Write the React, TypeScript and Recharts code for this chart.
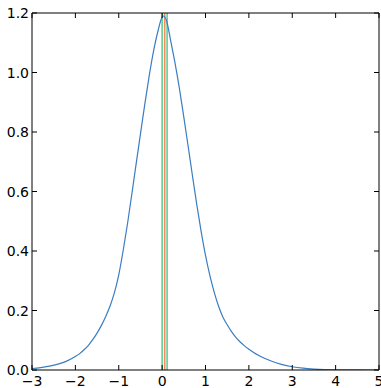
import React from "react";
import { LineChart, Line, XAxis, YAxis, ReferenceLine } from "recharts";

const xValues = [
  -3, -2.8, -2.6, -2.4, -2.2, -2, -1.9, -1.8, -1.7, -1.6, -1.5, -1.4, -1.3, -1.2, -1.1, -1, -0.9, -0.8, -0.7, -0.6, -0.5, -0.4, -0.3, -0.2, -0.1, 0, 0.03,
  0.1, 0.2, 0.3, 0.4, 0.5, 0.6, 0.7, 0.8, 0.9, 1, 1.1, 1.2, 1.3, 1.4, 1.5, 1.6, 1.7, 1.8, 1.9, 2, 2.25, 2.5, 2.75, 3, 3.25, 3.5, 3.75, 4, 4.5, 5,
];
const yValues = [
  0.005, 0.008, 0.013, 0.02, 0.03, 0.045, 0.055, 0.068, 0.083, 0.102, 0.124, 0.15, 0.18, 0.215, 0.26, 0.32, 0.4, 0.49, 0.59, 0.692, 0.793, 0.893, 0.987, 1.07, 1.137, 1.186, 1.19,
  1.175, 1.105, 1.03, 0.945, 0.85, 0.752, 0.652, 0.555, 0.465, 0.385, 0.318, 0.262, 0.215, 0.178, 0.152, 0.129, 0.11, 0.094, 0.081, 0.07, 0.047, 0.031, 0.019, 0.011, 0.006, 0.0032, 0.0016, 0.0008, 0.0002, 0,
];
const xTicks = [-3, -2, -1, 0, 1, 2, 3, 4, 5];
const yTicks = [0, 0.2, 0.4, 0.6, 0.8, 1.0, 1.2];
const markers = [
  { x: 0.0, color: "#5fcf96" },
  { x: 0.06, color: "#fb8a5e" },
  { x: 0.115, color: "#5fcf96" },
];

const data = xValues.map((x, i) => ({ x, y: yValues[i] }));

const FONT = "DejaVu Sans, sans-serif";
const TL = 5;

const fmtX = (v: number) => (v < 0 ? "\u2212" + Math.abs(v) : String(v));

const BottomTick = (props: any) => {
  const { x, y, payload } = props;
  return (
    <g>
      <line x1={x} x2={x} y1={y} y2={y - TL} stroke="#000" strokeWidth={1} />
      <text x={x} y={y + 16} textAnchor="middle" fontFamily={FONT} fontSize={14} fill="#000">
        {fmtX(payload.value)}
      </text>
    </g>
  );
};

const TopTick = (props: any) => {
  const { x, y } = props;
  return <line x1={x} x2={x} y1={y} y2={y + TL} stroke="#000" strokeWidth={1} />;
};

const LeftTick = (props: any) => {
  const { x, y, payload } = props;
  return (
    <g>
      <line x1={x} x2={x + TL} y1={y} y2={y} stroke="#000" strokeWidth={1} />
      <text x={x - 3} y={y + 5} textAnchor="end" fontFamily={FONT} fontSize={14} fill="#000">
        {payload.value.toFixed(1)}
      </text>
    </g>
  );
};

const RightTick = (props: any) => {
  const { x, y } = props;
  return <line x1={x} x2={x - TL} y1={y} y2={y} stroke="#000" strokeWidth={1} />;
};

export default function App() {
  return (
    <div style={{ position: "absolute", left: 0, top: 0, background: "#fff" }}>
      <LineChart width={381} height={388} data={data} margin={{ top: 12, right: 1, bottom: 0, left: 0 }}>
        <XAxis
          xAxisId="b"
          dataKey="x"
          type="number"
          domain={[-3, 5]}
          ticks={xTicks}
          interval={0}
          height={18}
          tickSize={0}
          tickMargin={0}
          tick={<BottomTick />}
          axisLine={{ stroke: "#000", strokeWidth: 1 }}
          allowDataOverflow
        />
        <XAxis
          xAxisId="t"
          orientation="top"
          dataKey="x"
          type="number"
          domain={[-3, 5]}
          ticks={xTicks}
          interval={0}
          height={1}
          tickSize={0}
          tickMargin={0}
          tick={<TopTick />}
          axisLine={{ stroke: "#000", strokeWidth: 1 }}
          allowDataOverflow
        />
        <YAxis
          yAxisId="l"
          type="number"
          domain={[0, 1.2]}
          ticks={yTicks}
          interval={0}
          width={32}
          tickSize={0}
          tickMargin={0}
          tick={<LeftTick />}
          axisLine={{ stroke: "#000", strokeWidth: 1 }}
          allowDataOverflow
        />
        <YAxis
          yAxisId="r"
          orientation="right"
          type="number"
          domain={[0, 1.2]}
          ticks={yTicks}
          interval={0}
          width={1}
          tickSize={0}
          tickMargin={0}
          tick={<RightTick />}
          axisLine={{ stroke: "#000", strokeWidth: 1 }}
          allowDataOverflow
        />
        {markers.map((m, i) => (
          <ReferenceLine key={i} xAxisId="b" yAxisId="l" x={m.x} stroke={m.color} strokeWidth={1.6} />
        ))}
        <Line
          xAxisId="b"
          yAxisId="l"
          dataKey="y"
          type="monotone"
          stroke="#3a7dc2"
          strokeWidth={1.2}
          dot={false}
          isAnimationActive={false}
        />
        <Line
          xAxisId="t"
          yAxisId="r"
          dataKey="y"
          type="monotone"
          stroke="none"
          dot={false}
          isAnimationActive={false}
        />
      </LineChart>
    </div>
  );
}
